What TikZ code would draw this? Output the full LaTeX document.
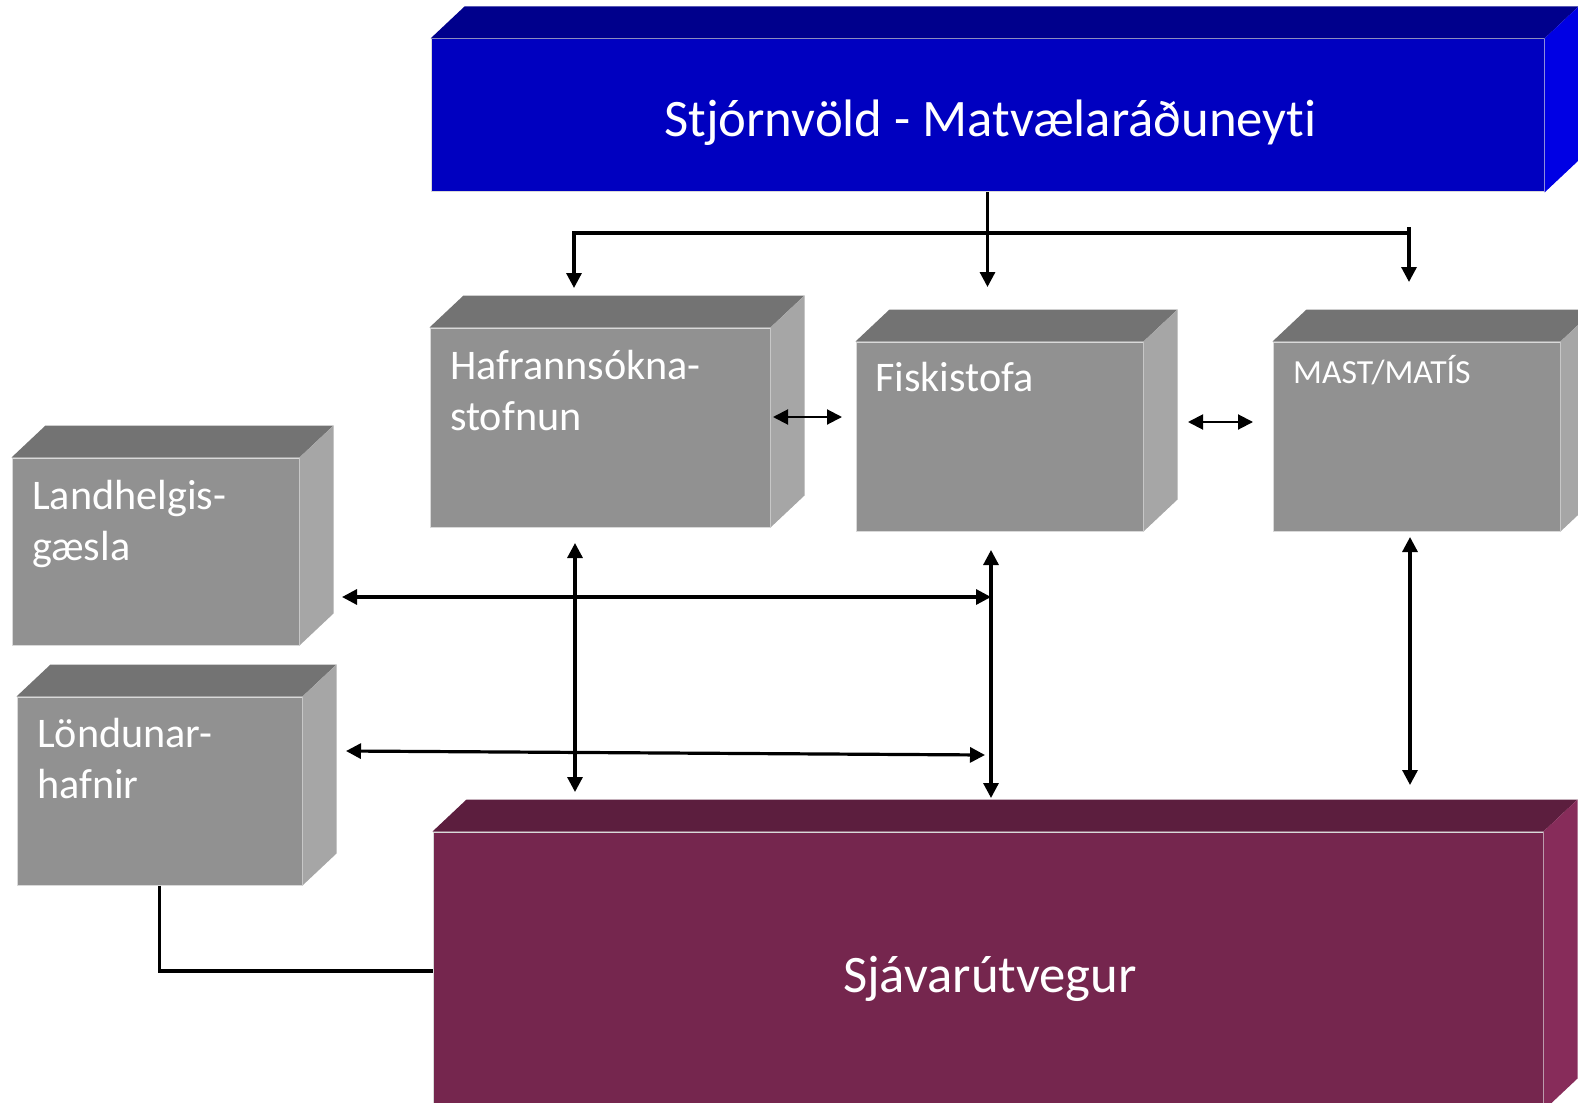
\documentclass[tikz,border=0pt]{standalone}
\usepackage{fontspec}
\setmainfont{Carlito}[Ligatures={NoCommon}]
\usetikzlibrary{arrows.meta,calc}

\definecolor{govfront}{RGB}{0,0,192}
\definecolor{govtop}{RGB}{0,0,140}
\definecolor{govside}{RGB}{0,0,228}
\definecolor{greyfront}{RGB}{145,145,145}
\definecolor{greytop}{RGB}{115,115,115}
\definecolor{greyside}{RGB}{166,166,166}
\definecolor{seafront}{RGB}{117,38,78}
\definecolor{seatop}{RGB}{92,30,62}
\definecolor{seaside}{RGB}{135,44,90}

\tikzset{
  front/.style={rectangle, inner sep=0pt, draw=white!70!gray, line width=0.1mm},
  grey/.style={front, fill=greyfront},
  lbl/.style={text=white, font=\fontsize{12}{14.6}\selectfont, align=left, inner sep=0pt, anchor=base west},
  title/.style={text=white, font=\fontsize{15}{18}\selectfont},
  line/.style={line width=0.32mm},
  oneway/.style={line, -{Triangle[length=1.5mm,width=1.5mm]}},
  twoway/.style={line, {Triangle[length=1.5mm,width=1.5mm]}-{Triangle[length=1.5mm,width=1.5mm]}},
}

% top and right face of a box, drawn on a front node
\newcommand{\boxfaces}[3]{%
  \fill[#2] (#1.north west) -- ++(34,-32) -- ($(#1.north east)+(34,-32)$) -- (#1.north east) -- cycle;
  \fill[#3] (#1.north east) -- ++(34,-32) -- ($(#1.south east)+(34,-32)$) -- (#1.south east) -- cycle;
}

\begin{document}
\begin{tikzpicture}[x=0.1mm,y=-0.1mm]
\useasboundingbox (0,0) rectangle (1578,1102);
\clip (0,0) rectangle (1578,1102);

% boxes
\node[front, fill=govfront, minimum width=111.3mm, minimum height=15.3mm] (gov) at (987.5,115.5) {};
\boxfaces{gov}{govtop}{govside}
\node[title] (govText) at ($(gov.center)+(3,7)$) {Stjórnvöld - Matvælaráðuneyti};

% two-line labels sit on their second baseline
\node[grey, minimum width=34mm, minimum height=19.9mm] (haf) at (600,427.5) {};
\boxfaces{haf}{greytop}{greyside}
\node[lbl] (hafText) at ($(haf.north west)+(20,103)$) {Hafrannsókna-\\stofnun};

\node[grey, minimum width=28.7mm, minimum height=18.9mm] (fiski) at (999.5,436.5) {};
\boxfaces{fiski}{greytop}{greyside}
\node[lbl] (fiskiText) at ($(fiski.north west)+(19,50)$) {Fiskistofa};

\node[grey, minimum width=28.7mm, minimum height=18.9mm] (mast) at (1416.5,436.5) {};
\boxfaces{mast}{greytop}{greyside}
\node[lbl, font=\fontsize{9.6}{11.5}\selectfont] (mastText) at ($(mast.north west)+(20,42)$) {MAST/MATÍS};

\node[grey, minimum width=28.7mm, minimum height=18.7mm] (land) at (155.5,551.5) {};
\boxfaces{land}{greytop}{greyside}
\node[lbl] (landText) at ($(land.north west)+(20,103)$) {Landhelgis-\\gæsla};

\node[grey, minimum width=28.5mm, minimum height=18.8mm] (lond) at (159.5,791) {};
\boxfaces{lond}{greytop}{greyside}
\node[lbl] (londText) at ($(lond.north west)+(20,102)$) {Löndunar-\\hafnir};

\node[front, fill=seafront, minimum width=111mm, minimum height=27.8mm] (sea) at (988,971) {};
\boxfaces{sea}{seatop}{seaside}
\node[title] (seaText) at (990,979) {Sjávarútvegur};

% free ends of the connectors
\coordinate (busL) at (574,233);
\coordinate (busR) at (1409,233);
\coordinate (busRtop) at (1409,227);
\coordinate (hafIn) at (574,288);
\coordinate (fiskiIn) at (987.5,287);
\coordinate (mastIn) at (1409,282);
\coordinate (hfL) at (773,417);
\coordinate (hfR) at (842,417);
\coordinate (fmL) at (1188,422);
\coordinate (fmR) at (1253,422);
\coordinate (hafUp) at (575,543);
\coordinate (hafDown) at (575,792);
\coordinate (fiskiUp) at (991,550);
\coordinate (fiskiDown) at (991,798);
\coordinate (mastUp) at (1410,537);
\coordinate (mastDown) at (1410,785);
\coordinate (landOut) at (342,597);
\coordinate (landIn) at (991,597);
\coordinate (londOut) at (346,751);
\coordinate (londIn) at (985,755);

% connectors
\draw[oneway] (busR) -- (busL) -- (hafIn);
\draw[oneway] (busRtop) -- (mastIn);
\draw[oneway] (gov.south) -- (fiskiIn);
\draw[twoway, line width=0.2mm] (hfL) -- (hfR);
\draw[twoway, line width=0.2mm] (fmL) -- (fmR);
\draw[twoway] (hafUp) -- (hafDown);
\draw[twoway] (fiskiUp) -- (fiskiDown);
\draw[twoway] (mastUp) -- (mastDown);
\draw[twoway] (landOut) -- (landIn);
\draw[twoway] (londOut) -- (londIn);
\draw[line] (lond.south) -- (lond.south |- sea.west) -- (sea.west);
\end{tikzpicture}
\end{document}
